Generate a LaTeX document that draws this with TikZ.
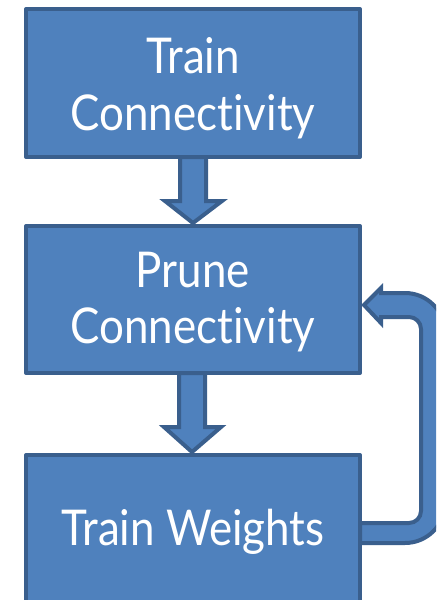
\documentclass[tikz,border=0pt]{standalone}
\usepackage{fontspec}
\setmainfont{Lato}[FakeStretch=0.89,Ligatures={NoCommon,NoContextual,NoRequired}]
\usetikzlibrary{calc}
\definecolor{boxfill}{HTML}{4F81BD}
\definecolor{boxline}{HTML}{3A5F8D}
\begin{document}
\begin{tikzpicture}[x=0.75pt,y=-0.75pt,
  stage/.style={draw=boxline,fill=boxfill,line width=3pt,line join=round,
    rectangle,minimum width=334*0.75pt,inner sep=0pt,outer sep=0pt},
  blockarrow/.style={draw=boxline,fill=boxfill,line width=3pt,line join=miter},
  caption/.style={text=white,font=\fontsize{37}{43}\selectfont,inner sep=0pt,anchor=base}]
\useasboundingbox (0,0) rectangle (436,600);
\clip (0,0) rectangle (436,600);

% stage boxes
\node[stage,minimum height=148*0.75pt] (tc) at (193,83) {};
\node[stage,minimum height=147*0.75pt] (pc) at (193,299.5) {};
\node[stage,minimum height=151*0.75pt] (tw) at (193,530.5) {};

% captions
\node[caption] (tc1) at (193,73) {Train};
\node[caption] (tc2) at (193,130) {Connectivity};
\node[caption] (pc1) at (193,287) {Prune};
\node[caption] (pc2) at (193,343) {Connectivity};
\node[caption] (tw1) at (193,545) {Train Weights};

% block arrows between the stages
\draw[blockarrow] (tc.south) ++(-13,0) -- ++(0,44) -- ++(-15,0)
  -- ($(pc.north)+(0,-3)$) -- ($(tc.south)+(29,44)$) -- ++(-16,0) -- ++(0,-44) -- cycle;
\draw[blockarrow] (pc.south) ++(-14,0) -- ++(0,54) -- ++(-15,0)
  -- ($(tw.north)+(-1,-3)$) -- ($(pc.south)+(28,54)$) -- ++(-16,0) -- ++(0,-54) -- cycle;

% feedback arrow from Train Weights back to Prune Connectivity
\coordinate (tip) at ($(pc.east)+(4,5.5)$);
\coordinate (start) at ($(tw.east)+(0,2.5)$);
\draw[blockarrow] (tip) -- ++(17,-17) -- ++(0,5)
  [rounded corners=30] -- (445,293) -- (445,543)
  [sharp corners] -- ($(start)+(0,10)$) -- ($(start)+(0,-10)$)
  [rounded corners=9] -- (421,523) -- (421,317)
  [sharp corners] -- ($(tip)+(17,12)$) -- ++(0,6) -- cycle;
\end{tikzpicture}
\end{document}
